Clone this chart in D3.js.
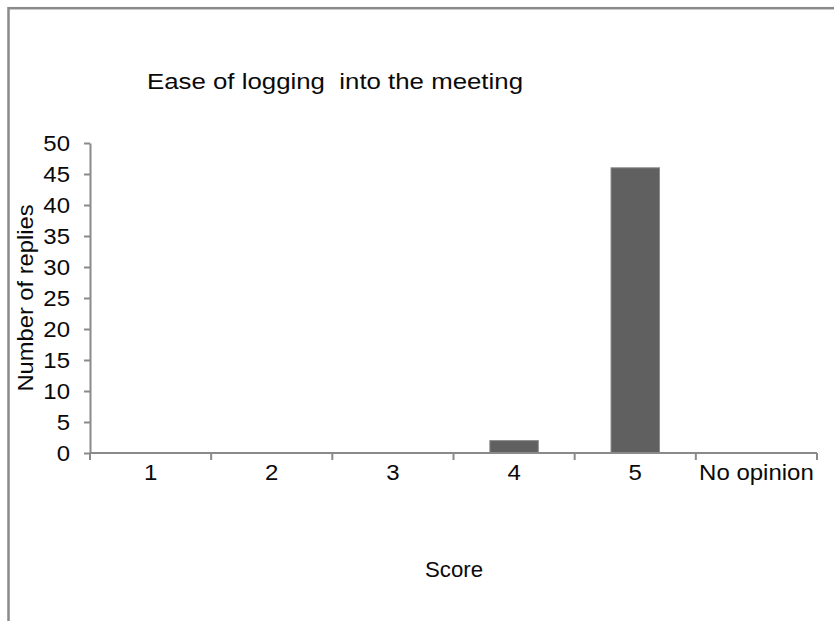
<!DOCTYPE html>
<html>
<head>
<meta charset="utf-8">
<script src="https://cdn.jsdelivr.net/npm/d3@7"></script>
<style>
  html, body { margin: 0; padding: 0; background: #fff; }
  svg { display: block; font-family: "Liberation Sans", Arial, sans-serif; }
</style>
</head>
<body>
<svg id="chart" width="834" height="621"></svg>
<script>
// Survey replies per score
const categories = ["1", "2", "3", "4", "5", "No opinion"];
const replies = [0, 0, 0, 2, 46, 0];
const yTicks = [0, 5, 10, 15, 20, 25, 30, 35, 40, 45, 50];
const titleText = "Ease of logging  into the meeting";
const yTitleText = "Number of replies";
const xTitleText = "Score";

const svg = d3.select("#chart");
const axisColor = "#8a8a8a";
const textColor = "#0a0a0a";
const fontSize = 22;

// widen glyphs a little, as the original GDI-rendered text runs wide
function stretch(sel, target) {
  sel.each(function () {
    const natural = this.getComputedTextLength();
    const len = typeof target === "number" ? target : natural * 1.09;
    d3.select(this).attr("textLength", len).attr("lengthAdjust", "spacingAndGlyphs");
  });
}

// outer frame (runs off the right and bottom edges)
svg.append("rect")
  .attr("x", 8.5).attr("y", 8.2)
  .attr("width", 840).attr("height", 630)
  .attr("fill", "none").attr("stroke", axisColor).attr("stroke-width", 2.5);

const x = d3.scaleBand()
  .domain(categories)
  .range([90, 817])
  .paddingInner(0.6)
  .paddingOuter(0.3);

const y = d3.scaleLinear()
  .domain([0, 50])
  .range([453, 143]);

// bars
svg.append("g").selectAll("rect")
  .data(categories.map((c, i) => ({ c, v: replies[i] })))
  .join("rect")
  .attr("x", d => x(d.c))
  .attr("width", x.bandwidth())
  .attr("y", d => y(d.v))
  .attr("height", d => y(0) - y(d.v))
  .attr("fill", "#606060")
  .attr("stroke", "#8c8c8c")
  .attr("stroke-width", 1);

// y axis
const yAxis = svg.append("g")
  .attr("transform", "translate(90,0)")
  .call(d3.axisLeft(y).tickValues(yTicks).tickSize(6).tickSizeOuter(0).tickPadding(14));
yAxis.select(".domain").attr("stroke", axisColor).attr("stroke-width", 2);
yAxis.selectAll(".tick line").attr("stroke", axisColor).attr("stroke-width", 2);
yAxis.selectAll(".tick text")
  .attr("fill", textColor)
  .attr("font-size", fontSize)
  .attr("font-family", "Liberation Sans, Arial, sans-serif")
  .attr("dy", "0.36em")
  .call(stretch);

// x axis: labels centred under each band, ticks at band boundaries
const xAxis = svg.append("g")
  .attr("transform", `translate(0,${y(0)})`)
  .call(d3.axisBottom(x).tickSize(0).tickSizeOuter(0).tickPadding(19));
xAxis.select(".domain").attr("stroke", axisColor).attr("stroke-width", 2)
  .attr("d", `M${x.range()[0]},0H${x.range()[1]}`);
xAxis.selectAll(".tick text")
  .attr("fill", textColor)
  .attr("font-size", fontSize)
  .attr("font-family", "Liberation Sans, Arial, sans-serif")
  .attr("dy", "0.36em")
  .call(stretch);
xAxis.selectAll("line.boundary")
  .data(d3.range(categories.length + 1))
  .join("line")
  .attr("class", "boundary")
  .attr("x1", i => x.range()[0] + i * x.step())
  .attr("x2", i => x.range()[0] + i * x.step())
  .attr("y1", 0).attr("y2", 7)
  .attr("stroke", axisColor).attr("stroke-width", 2);

// title
svg.append("text")
  .attr("x", 147).attr("y", 89)
  .attr("fill", textColor)
  .attr("font-size", 22)
  .attr("xml:space", "preserve")
  .style("white-space", "pre")
  .text(titleText)
  .call(stretch, 376);

// axis titles
svg.append("text")
  .attr("transform", "translate(33,298) rotate(-90)")
  .attr("text-anchor", "middle")
  .attr("fill", textColor)
  .attr("font-size", fontSize)
  .text(yTitleText)
  .call(stretch, 187);

svg.append("text")
  .attr("x", 454).attr("y", 577)
  .attr("text-anchor", "middle")
  .attr("fill", textColor)
  .attr("font-size", 22)
  .text(xTitleText)
  .call(stretch, 58);
</script>
</body>
</html>
